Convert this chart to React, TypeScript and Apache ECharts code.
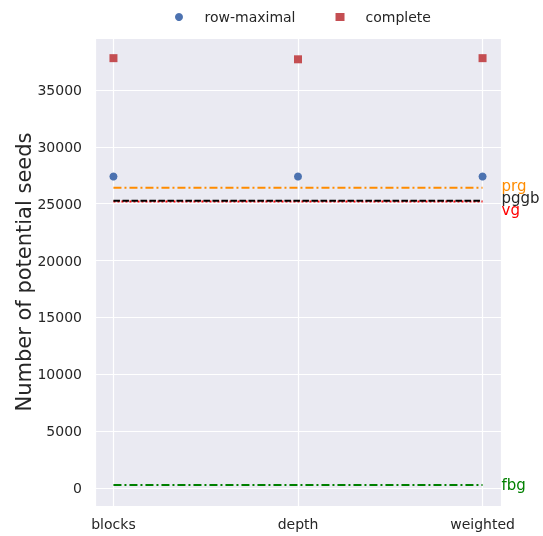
import React, { useEffect, useRef } from "react";
import * as echarts from "echarts";

const categories = ["blocks", "depth", "weighted"];
const rowMaximal = [27400, 27400, 27400];
const complete = [37800, 37700, 37800];
const refNames = ["prg", "pggb", "vg", "fbg"];
const refValues = [26400, 25250, 25200, 260];

const TEXT = "#262626";
const FONT = "DejaVu Sans";

export default function App() {
  const ref = useRef<HTMLDivElement>(null);
  useEffect(() => {
    if (!ref.current) return;
    const chart = echarts.init(ref.current, undefined, { renderer: "svg" });
    const refStyles: any[] = [
      { color: "#FF8C00", type: [8, 3, 2, 3], width: 2, textColor: "#FF8C00", dy: -2 },
      { color: "#000000", type: [6.5, 2.5], width: 2, textColor: TEXT, dy: -3 },
      { color: "#FF0000", type: [2, 2], width: 2, textColor: "#FF0000", dy: 9 },
      { color: "#008000", type: [8, 3, 2, 3], width: 2, textColor: "#008000", dy: 0 },
    ];
    const order = [2, 1, 0, 3];
    const lineSeries = order.map((i) => ({
      type: "line",
      name: refNames[i],
      data: [
        [0, refValues[i]],
        [categories.length - 1, refValues[i]],
      ],
      showSymbol: false,
      symbol: "none",
      lineStyle: { color: refStyles[i].color, type: refStyles[i].type, width: refStyles[i].width },
      itemStyle: { color: refStyles[i].color },
      z: 2,
      silent: true,
      endLabel: {
        show: true,
        formatter: refNames[i],
        color: refStyles[i].textColor,
        fontFamily: FONT,
        fontSize: 15,
        distance: 19,
        offset: [0, refStyles[i].dy],
      },
      labelLayout: { hideOverlap: false, moveOverlap: false },
    }));
    chart.setOption({
      animation: false,
      textStyle: { fontFamily: FONT },
      legend: {
        left: 170,
        top: 5,
        itemWidth: 9,
        itemHeight: 8,
        itemGap: 40,
        textStyle: { fontFamily: FONT, fontSize: 14, color: TEXT, padding: [0, 0, 0, 16] },
        data: [
          { name: "row-maximal", icon: "circle" },
          { name: "complete", icon: "rect" },
        ],
      },
      grid: {
        left: 95,
        right: 42,
        top: 38,
        bottom: 30,
        show: true,
        backgroundColor: "#EAEAF2",
        borderWidth: 0,
        containLabel: false,
        outerBoundsMode: "none",
      },
      xAxis: {
        type: "value",
        min: -0.1,
        max: 2.1,
        splitNumber: 2,
        axisLine: { show: false },
        axisTick: { show: false },
        axisLabel: {
          showMinLabel: false,
          showMaxLabel: false,
          fontFamily: FONT,
          fontSize: 14,
          color: TEXT,
          margin: 11,
          formatter: (v: number) => categories[Math.round(v)] ?? "",
        },
        splitLine: { show: true, lineStyle: { color: "#FFFFFF", width: 1.2 } },
      },
      yAxis: {
        type: "value",
        min: -1583,
        max: 39573,
        splitNumber: 8,
        name: "Number of potential seeds",
        nameLocation: "middle",
        nameGap: 61,
        nameMoveOverlap: false,
        nameTextStyle: { fontFamily: FONT, fontSize: 21, color: TEXT },
        axisLine: { show: false },
        axisTick: { show: false },
        axisLabel: {
          showMinLabel: false,
          showMaxLabel: false,
          fontFamily: FONT,
          fontSize: 14,
          color: TEXT,
          margin: 13,
          formatter: (v: number) => String(v),
        },
        splitLine: { show: true, lineStyle: { color: "#FFFFFF", width: 1.2 } },
      },
      series: [
        ...lineSeries,
        {
          type: "scatter",
          name: "row-maximal",
          symbol: "circle",
          symbolSize: 8,
          data: rowMaximal.map((v, i) => [i, v]),
          itemStyle: { color: "#4C72B0", opacity: 1 },
          z: 3,
        },
        {
          type: "scatter",
          name: "complete",
          symbol: "rect",
          symbolSize: 8,
          data: complete.map((v, i) => [i, v]),
          itemStyle: { color: "#C44E52", opacity: 1 },
          z: 3,
        },
      ],
    });
    return () => chart.dispose();
  }, []);
  return (
    <div
      ref={ref}
      style={{ position: "fixed", left: 0, top: 0, width: 543, height: 536 }}
    />
  );
}
